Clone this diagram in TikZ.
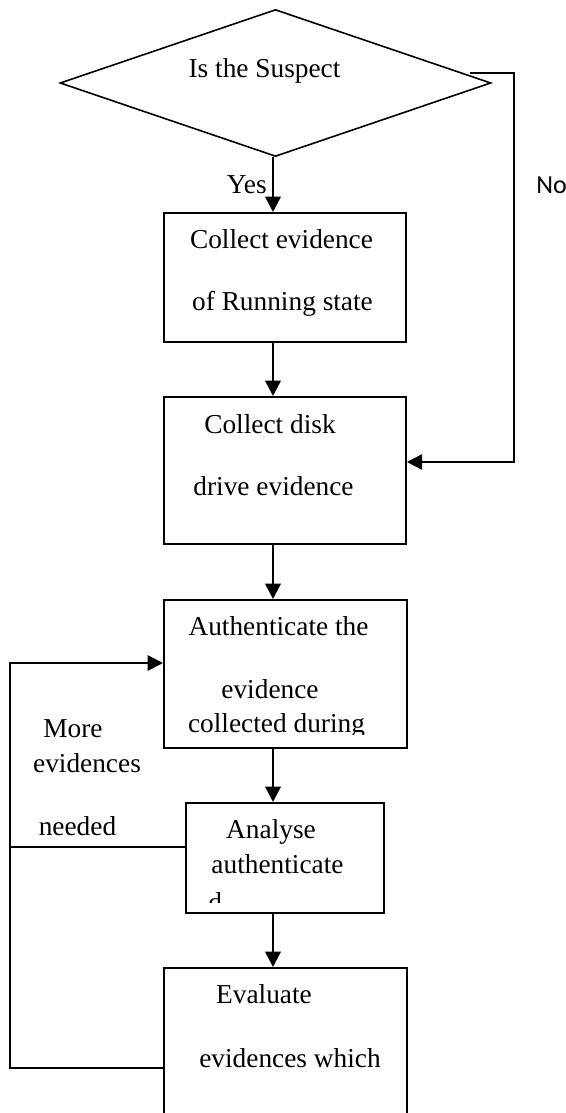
\documentclass[tikz,border=0pt]{standalone}
\usepackage{fontspec}
\setmainfont{Liberation Serif}
\newfontfamily\nofont{Carlito}
\usetikzlibrary{arrows.meta,shapes.geometric}

\tikzset{
  stepbox/.style={draw, line width=1.4pt, inner sep=0pt, anchor=north west},
  txt/.style={anchor=base, inner sep=0pt, font=\fontsize{20.5}{24}\selectfont},
  flow/.style={line width=1.9pt, -{Triangle[length=11.5pt,width=11.5pt]}},
  loopflow/.style={line width=1.4pt, -{Triangle[length=11.5pt,width=11.5pt]}},
  wire/.style={line width=1.4pt}
}

\begin{document}
\begin{tikzpicture}[x=0.75pt, y=-0.75pt]
			%%%%% START %%%%%
			\useasboundingbox (0,0) rectangle (565,1113);
			
			\node[draw, diamond, line width=1.2pt, inner sep=0pt, minimum width=323.25pt, minimum height=110.25pt] (susp) at (275.5,83) {};
			\node[txt] (suspt) at (264.5,78) {Is the Suspect};
			
			\node[stepbox, minimum width=181.5pt, minimum height=96.75pt] (run) at (163,212) {};
			\node[stepbox, minimum width=181.5pt, minimum height=110.25pt] (disk) at (163,396) {};
			\node[stepbox, minimum width=182.25pt, minimum height=111pt] (auth) at (163,599) {};
			\node[stepbox, minimum width=148.5pt, minimum height=82.5pt] (anal) at (185,802) {};
			\node[stepbox, minimum width=182.25pt, minimum height=135pt] (eval) at (163,967) {};
			
			\node[txt] (run1) at (281.5,248) {Collect evidence};
			\node[txt] (run2) at (282.5,310) {of Running state};
			\node[txt] (disk1) at (270,433) {Collect disk};
			\node[txt] (disk2) at (273.5,495) {drive evidence};
			\node[txt] (auth1) at (278.5,635) {Authenticate the};
			\node[txt] (auth2) at (270,698) {evidence};
			\begin{scope}
				\clip (163,599) rectangle (406,734);
				\node[txt] (auth3) at (276.5,732) {collected during};
			\end{scope}
			\node[txt] (anal1) at (271,838) {Analyse};
			\node[txt] (anal2) at (277.5,873) {authenticate};
			\begin{scope}
				\clip (185,802) rectangle (383,902);
				\node[txt, anchor=base west] (anal3) at (208,911) {d};
			\end{scope}
			\node[txt] (eval1) at (264,1003) {Evaluate};
			\node[txt] (eval2) at (290,1067) {evidences which};
			
			\node[txt] (more1) at (73,737) {More};
			\node[txt] (more2) at (87,772) {evidences};
			\node[txt] (more3) at (77.5,835) {needed};
			
			\node[txt, anchor=base east] (yes) at (267,193) {Yes};
			\node[txt, anchor=base west, font=\nofont\fontsize{19.5}{23}\selectfont] (no) at (536,193) {No};
			
			% main line
			\coordinate (col) at (273,0);
			\draw[flow] (susp.south -| col) -- (run.north -| col);
			\draw[flow] (run.south -| col) -- (disk.north -| col);
			\draw[flow] (disk.south -| col) -- (auth.north -| col);
			\draw[flow] (auth.south -| col) -- (anal.north -| col);
			\draw[flow] (anal.south -| col) -- (eval.north -| col);
			
			% no branch
			\coordinate (nostart) at (470,73);
			\coordinate (nocorner) at (514,462);
			\draw[loopflow] (nostart) -| (nocorner) -- (nocorner -| disk.east);
			
			% back loop
			\coordinate (backlow) at (10,1068);
			\coordinate (backmid) at (10,847);
			\coordinate (backtop) at (10,663);
			\draw[loopflow] (eval.west |- backlow) -- (backlow) -- (backtop) -- (backtop -| auth.west);
			\draw[wire] (anal.west |- backmid) -- (backmid);
			
			%%%%% END %%%%%
\end{tikzpicture}
\end{document}
